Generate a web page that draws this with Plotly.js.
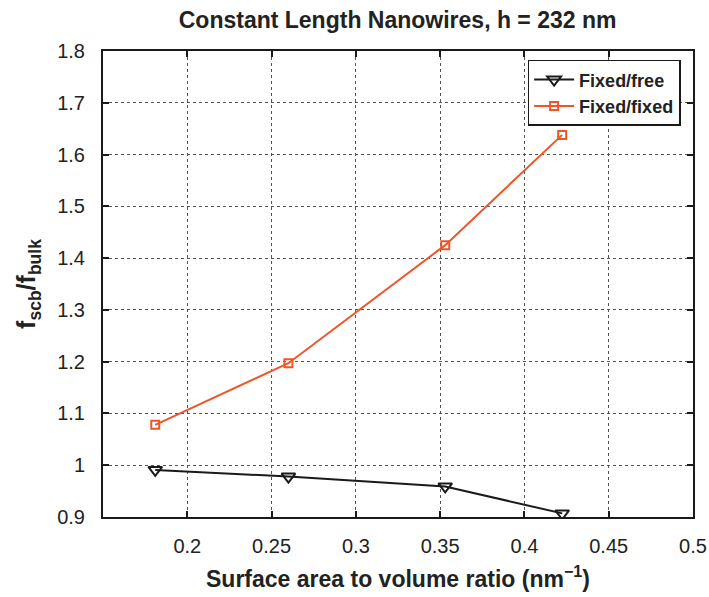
<!DOCTYPE html>
<html><head><meta charset="utf-8">
<script src="https://cdn.plot.ly/plotly-3.0.1.min.js"></script>
<style>body{margin:0;background:#fff}#c{width:709px;height:597px}</style>
</head><body><div id="c"></div>
<script>
var xVals = [0.181, 0.26, 0.353, 0.4224];
var fixedFree = [0.991, 0.978, 0.959, 0.907];
var fixedFixed = [1.078, 1.197, 1.425, 1.638];
var xTicks = [0.2, 0.25, 0.3, 0.35, 0.4, 0.45, 0.5];
var xTickText = ['0.2', '0.25', '0.3', '0.35', '0.4', '0.45', '0.5'];
var yTicks = [0.9, 1, 1.1, 1.2, 1.3, 1.4, 1.5, 1.6, 1.7, 1.8];
var yTickText = ['0.9', '1', '1.1', '1.2', '1.3', '1.4', '1.5', '1.6', '1.7', '1.8'];

var fnt = 'Liberation Sans, Arial, Helvetica, sans-serif';
var traces = [
  {x: xVals, y: fixedFree, name: 'Fixed/free', mode: 'lines+markers', type: 'scatter',
   line: {color: '#1a1a1a', width: 2},
   marker: {symbol: 'triangle-down-open', size: 12, color: '#1a1a1a', line: {width: 2, color: '#1a1a1a'}}},
  {x: xVals, y: fixedFixed, name: 'Fixed/fixed', mode: 'lines+markers', type: 'scatter',
   line: {color: '#ef5527', width: 2},
   marker: {symbol: 'square-open', size: 8, color: '#ef5527', line: {width: 2, color: '#ef5527'}}}
];
var axBase = {
  showline: true, linecolor: '#1a1a1a', linewidth: 2, mirror: 'ticks',
  ticks: 'inside', ticklen: 6, tickcolor: '#1a1a1a', tickwidth: 1.5,
  showgrid: true, gridcolor: '#555', griddash: 'dot', gridwidth: 1,
  zeroline: false, tickfont: {family: fnt, size: 20, color: '#222'}
};
var layout = {
  width: 709, height: 597,
  margin: {l: 102.5, r: 16.3, t: 50.7, b: 80.3},
  paper_bgcolor: '#fff', plot_bgcolor: '#fff',
  title: {text: '<b>Constant Length Nanowires, h = 232 nm</b>', font: {family: fnt, size: 23, color: '#222'},
          x: 0.5608, xanchor: 'center', y: 0.966, yanchor: 'middle'},
  xaxis: Object.assign({}, axBase, {range: [0.15, 0.5], tickvals: xTicks, ticktext: xTickText, ticklabelstandoff: 10,
    title: {text: '<b>Surface area to volume ratio (nm<sup>\u22121</sup>)</b>', font: {family: fnt, size: 23, color: '#222'}, standoff: 15}}),
  yaxis: Object.assign({}, axBase, {range: [0.9, 1.8], tickvals: yTicks, ticktext: yTickText, ticklabelstandoff: 12,
    title: {text: '<b>f<sub>scb</sub>/f<sub>bulk</sub></b>', font: {family: fnt, size: 25, color: '#222'}, standoff: 14}}),
  legend: {x: 0.979, xanchor: 'right', y: 0.981, yanchor: 'top', bgcolor: '#fff',
    bordercolor: '#1a1a1a', borderwidth: 1.5, font: {family: fnt, size: 18, color: '#222', weight: 'bold'},
    tracegroupgap: 0, itemwidth: 40},
  showlegend: true
};
Plotly.newPlot('c', traces, layout, {displayModeBar: false});
</script></body></html>
